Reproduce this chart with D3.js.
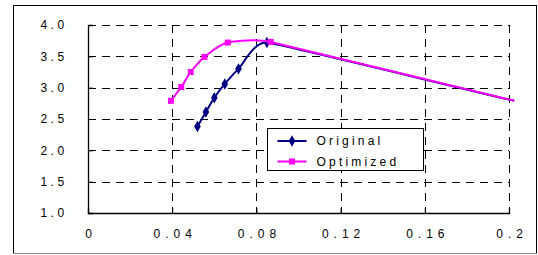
<!DOCTYPE html>
<html>
<head>
<meta charset="utf-8">
<script src="https://cdn.jsdelivr.net/npm/d3@7"></script>
<style>
  body { margin: 0; background: #fff; }
  text { font-family: "Liberation Sans", Arial, sans-serif; font-size: 12px; fill: #000; }
</style>
</head>
<body>
<svg width="538" height="255"></svg>
<script>
var xTicks = [0, 0.04, 0.08, 0.12, 0.16, 0.2];
var xTickLabels = ["0", "0.04", "0.08", "0.12", "0.16", "0.2"];
var yTicks = [1.0, 1.5, 2.0, 2.5, 3.0, 3.5, 4.0];
var yTickLabels = ["1.0", "1.5", "2.0", "2.5", "3.0", "3.5", "4.0"];

var originalX = [0.052, 0.056, 0.060, 0.065, 0.0715, 0.085, 0.2025];
var originalY = [2.38, 2.61, 2.84, 3.06, 3.30, 3.72, 2.79];
var optimizedX = [0.0394, 0.0443, 0.0488, 0.0553, 0.0664, 0.0868, 0.2025];
var optimizedY = [2.79, 3.01, 3.25, 3.49, 3.72, 3.73, 2.79];

var seriesNames = ["Original", "Optimized"];

var svg = d3.select("svg"),
    margin = {top: 25, right: 29, bottom: 42, left: 88},
    width = +svg.attr("width") - margin.left - margin.right,
    height = +svg.attr("height") - margin.top - margin.bottom;

// outer frame
svg.append("rect")
    .attr("x", 13.5).attr("y", 5.5)
    .attr("width", 523).attr("height", 248)
    .attr("fill", "#fff")
    .attr("stroke", "#000");
svg.append("line")
    .attr("x1", 13).attr("x2", 537).attr("y1", 253.5).attr("y2", 253.5)
    .attr("stroke", "#888");

var g = svg.append("g").attr("transform", "translate(" + margin.left + "," + margin.top + ")");

var x = d3.scaleLinear().domain([0, 0.2]).range([0, width]);
var y = d3.scaleLinear().domain([1, 4]).range([height, 0]);

// gridlines
g.append("g").selectAll("line")
  .data(yTicks.slice(1))
  .enter().append("line")
    .attr("x1", 0).attr("x2", width)
    .attr("y1", function(d) { return Math.round(y(d)) + 0.5; })
    .attr("y2", function(d) { return Math.round(y(d)) + 0.5; })
    .attr("stroke", "#000")
    .attr("stroke-dasharray", "8,6");

g.append("g").selectAll("line")
  .data(xTicks.slice(1))
  .enter().append("line")
    .attr("y1", 0).attr("y2", height)
    .attr("x1", function(d) { return Math.round(x(d)) + 0.5; })
    .attr("x2", function(d) { return Math.round(x(d)) + 0.5; })
    .attr("stroke", "#000")
    .attr("stroke-dasharray", "8,6");

// axes
var xAxis = g.append("g")
    .attr("transform", "translate(0," + height + ")")
    .call(d3.axisBottom(x).tickValues(xTicks).tickSize(-5).tickPadding(16)
      .tickFormat(function(d, i) { return xTickLabels[i]; }));
var yAxis = g.append("g")
    .call(d3.axisLeft(y).tickValues(yTicks).tickSize(-5).tickPadding(28)
      .tickFormat(function(d, i) { return yTickLabels[i]; }));

[xAxis, yAxis].forEach(function(a) {
  a.attr("font-family", null).attr("font-size", null);
  a.select(".domain").attr("stroke", "#000").attr("stroke-width", 1.3);
  a.selectAll(".tick line").attr("stroke", "#000");
  a.selectAll("text").style("letter-spacing", "5px");
});
xAxis.selectAll("text").attr("dx", "2.5px");
yAxis.selectAll("text").attr("text-anchor", "middle").attr("dx", "-6px").style("letter-spacing", "3.5px");

// smoothed line; tangent length limited by the shorter neighbouring segment
function smoothPath(data) {
  var p = data.map(function(d) { return [x(d[0]), y(d[1])]; });
  var n = p.length, path = d3.path();
  var dist = function(a, b) { return Math.hypot(b[0] - a[0], b[1] - a[1]); };
  var dir = function(a, b) { var l = dist(a, b) || 1; return [(b[0] - a[0]) / l, (b[1] - a[1]) / l]; };
  var tan = p.map(function(pt, i) {
    if (i === 0) return dir(p[0], p[1]);
    if (i === n - 1) return dir(p[n - 2], p[n - 1]);
    return dir(p[i - 1], p[i + 1]);
  });
  var mag = p.map(function(pt, i) {
    if (i === 0) return dist(p[0], p[1]) / 3;
    if (i === n - 1) return dist(p[n - 2], p[n - 1]) / 3;
    return Math.min(dist(p[i - 1], p[i]), dist(p[i], p[i + 1])) / 3;
  });
  path.moveTo(p[0][0], p[0][1]);
  for (var i = 0; i < n - 1; i++) {
    path.bezierCurveTo(
      p[i][0] + tan[i][0] * mag[i], p[i][1] + tan[i][1] * mag[i],
      p[i + 1][0] - tan[i + 1][0] * mag[i + 1], p[i + 1][1] - tan[i + 1][1] * mag[i + 1],
      p[i + 1][0], p[i + 1][1]);
  }
  return path.toString();
}

var original = originalX.map(function(v, i) { return [v, originalY[i]]; });
var optimized = optimizedX.map(function(v, i) { return [v, optimizedY[i]]; });

var diamond = d3.symbol().type(d3.symbolDiamond).size(38);
var square = d3.symbol().type(d3.symbolSquare).size(36);

function drawSeries(data, color, sym) {
  g.append("path")
      .attr("d", smoothPath(data))
      .attr("fill", "none")
      .attr("stroke", color)
      .attr("stroke-width", 2);
  g.append("g").selectAll("path")
    .data(data.filter(function(d) { return d[0] <= x.domain()[1]; }))
    .enter().append("path")
      .attr("transform", function(d) { return "translate(" + x(d[0]) + "," + y(d[1]) + ")"; })
      .attr("d", sym)
      .attr("fill", color);
}

drawSeries(original, "#000080", diamond);
drawSeries(optimized, "#ff00ff", square);

// legend
var legend = svg.append("g").attr("transform", "translate(267.5,128.5)");
legend.append("rect")
    .attr("width", 156).attr("height", 42)
    .attr("fill", "#fff")
    .attr("stroke", "#000");

var legendItems = [
  {name: seriesNames[0], color: "#000080", sym: diamond},
  {name: seriesNames[1], color: "#ff00ff", sym: square}
];
legendItems.forEach(function(d, i) {
  var row = legend.append("g").attr("transform", "translate(0," + (12.5 + i * 20.5) + ")");
  row.append("line")
      .attr("x1", 10).attr("x2", 39)
      .attr("stroke", d.color).attr("stroke-width", 2);
  row.append("path")
      .attr("transform", "translate(24.5,0)")
      .attr("d", d.sym)
      .attr("fill", d.color);
  row.append("text")
      .attr("x", 49).attr("dy", "0.36em")
      .style("letter-spacing", "3.2px")
      .text(d.name);
});
</script>
</body>
</html>
